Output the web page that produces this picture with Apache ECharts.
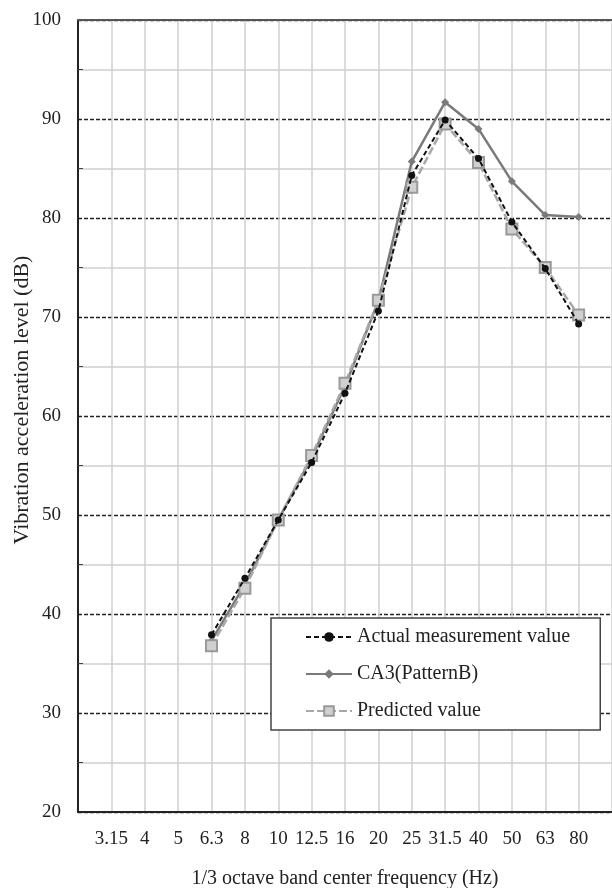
<!DOCTYPE html>
<html>
<head>
<meta charset="utf-8">
<script src="https://cdn.jsdelivr.net/npm/echarts@6/dist/echarts.min.js"></script>
<style>
  html, body { margin: 0; padding: 0; background: #fff; }
  #chart { width: 612px; height: 888px; }
</style>
</head>
<body>
<div id="chart"></div>
<script>
// band centre frequencies, blank slots at both ends of the axis
var categories = ['', '3.15', '4', '5', '6.3', '8', '10', '12.5', '16', '20', '25', '31.5', '40', '50', '63', '80', ''];
var actual    = ['-', '-', '-', '-', 37.9, 43.6, 49.5, 55.3, 62.3, 70.6, 84.3, 89.9, 86.0, 79.6, 74.9, 69.3, '-'];
var ca3       = ['-', '-', '-', '-', 37.3, 43.0, 49.5, 55.8, 63.0, 71.6, 85.7, 91.7, 89.0, 83.7, 80.3, 80.1, '-'];
var predicted = ['-', '-', '-', '-', 36.8, 42.6, 49.5, 56.0, 63.3, 71.7, 83.1, 89.5, 85.6, 78.9, 75.0, 70.2, '-'];
var yTitle = 'Vibration acceleration level (dB)';

var serif = 'Liberation Serif';
var chart = echarts.init(document.getElementById('chart'));

chart.setOption({
  backgroundColor: '#fff',
  animation: false,
  textStyle: { fontFamily: serif },
  grid: { left: 78, right: 0, top: 20, bottom: 76, outerBoundsMode: 'none' },
  // y axis title, placed by hand
  graphic: [{
    type: 'text',
    x: 22, y: 400,
    rotation: Math.PI / 2,
    style: {
      text: yTitle,
      font: '22px "Liberation Serif"',
      fill: '#222',
      align: 'center',
      verticalAlign: 'middle'
    }
  }],
  legend: {
    orient: 'vertical',
    left: 271, top: 618,
    padding: [9, 30, 9, 34],
    itemGap: 17,
    itemWidth: 46, itemHeight: 12,
    backgroundColor: '#fff',
    borderColor: '#444', borderWidth: 1.5,
    textStyle: { fontFamily: serif, fontSize: 20, color: '#222' },
    data: ['Actual measurement value', 'CA3(PatternB)', 'Predicted value']
  },
  xAxis: [{
    type: 'category',
    data: categories,
    boundaryGap: false,
    name: '1/3 octave band center frequency (Hz)',
    nameLocation: 'middle',
    nameGap: 57,
    nameTextStyle: { fontFamily: serif, fontSize: 20, color: '#222' },
    axisLine: { lineStyle: { color: '#222', width: 2 } },
    axisTick: { show: false },
    axisLabel: { interval: 0, fontFamily: serif, fontSize: 19, color: '#222', margin: 18 },
    splitLine: { show: true, interval: 0, lineStyle: { color: '#cfcfcf', width: 1.5 } }
  }, {
    // top frame line only
    type: 'category',
    data: categories,
    boundaryGap: false,
    position: 'top',
    axisLine: { lineStyle: { color: '#555', width: 2 } },
    axisTick: { show: false },
    axisLabel: { show: false },
    splitLine: { show: false }
  }],
  yAxis: {
    type: 'value',
    min: 20, max: 100, interval: 10,
    axisLine: { show: true, lineStyle: { color: '#222', width: 2 } },
    axisTick: { show: true, inside: true, length: 0 },
    minorTick: { show: true, splitNumber: 2, length: 5, lineStyle: { color: '#444', width: 1 } },
    minorSplitLine: { show: true, lineStyle: { color: '#cfcfcf', width: 1.5 } },
    axisLabel: { fontFamily: serif, fontSize: 19, color: '#222', margin: 17 },
    splitLine: { show: true, lineStyle: { color: '#222', width: 1.3, type: [4, 2] } }
  },
  series: [
    {
      name: 'CA3(PatternB)',
      type: 'line',
      data: ca3,
      symbol: 'diamond', symbolSize: 8,
      lineStyle: { color: '#7a7a7a', width: 2.5 },
      itemStyle: { color: '#7a7a7a' },
      z: 2
    },
    {
      name: 'Predicted value',
      type: 'line',
      data: predicted,
      symbol: 'rect', symbolSize: 11,
      lineStyle: { color: '#a8a8a8', width: 2.5, type: [8, 3] },
      itemStyle: { color: '#d0d0d0', borderColor: '#999', borderWidth: 2 },
      z: 3
    },
    {
      name: 'Actual measurement value',
      type: 'line',
      data: actual,
      symbol: 'circle', symbolSize: 7,
      lineStyle: { color: '#111', width: 2, type: [5, 3] },
      itemStyle: { color: '#111' },
      z: 4
    }
  ]
});
</script>
</body>
</html>
